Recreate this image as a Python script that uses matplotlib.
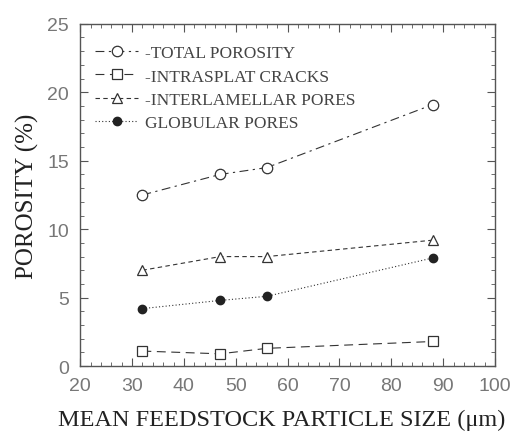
import matplotlib
matplotlib.use("Agg")
import matplotlib.pyplot as plt
from matplotlib.ticker import MultipleLocator

sizes = [32, 47, 56, 88]
total_porosity = [12.5, 14.0, 14.5, 19.1]
intrasplat_cracks = [1.1, 0.9, 1.3, 1.8]
interlamellar_pores = [7.0, 8.0, 8.0, 9.2]
globular_pores = [4.2, 4.8, 5.1, 7.9]
labels = ["-TOTAL POROSITY", "-INTRASPLAT CRACKS", "-INTERLAMELLAR PORES", "GLOBULAR PORES"]
xticks = [20, 30, 40, 50, 60, 70, 80, 90, 100]
yticks = [0, 5, 10, 15, 20, 25]

serif = ["Liberation Serif", "DejaVu Serif"]
fig = plt.figure(figsize=(5.14, 4.35), dpi=100)
ax = fig.add_axes([0.156, 0.156, 0.807, 0.787])

c = "#333333"
ax.plot(sizes, total_porosity, linestyle=(0, (8, 4, 2, 4)), color=c, lw=0.8,
        marker="o", ms=7.5, mfc="white", mec=c, mew=0.9, label=labels[0])
ax.plot(sizes, intrasplat_cracks, linestyle=(0, (8, 5)), color=c, lw=0.8,
        marker="s", ms=7, mfc="white", mec=c, mew=0.9, label=labels[1])
ax.plot(sizes, interlamellar_pores, linestyle=(0, (4, 3)), color=c, lw=0.8,
        marker="^", ms=7, mfc="white", mec=c, mew=0.9, label=labels[2])
ax.plot(sizes, globular_pores, linestyle=(0, (1, 2)), color=c, lw=0.8,
        marker="o", ms=6, mfc="#222222", mec="#222222", label=labels[3])

ax.set_xlim(20, 100)
ax.set_ylim(0, 25)
ax.set_xticks(xticks)
ax.set_yticks(yticks)
ax.xaxis.set_minor_locator(MultipleLocator(2))
ax.yaxis.set_minor_locator(MultipleLocator(1))
ax.tick_params(which="both", direction="in", top=True, right=True, color="#555555")
ax.tick_params(which="major", length=6, labelsize=14, labelcolor="#777777", pad=8)
ax.tick_params(which="minor", length=3)
for lab in ax.get_xticklabels() + ax.get_yticklabels():
    lab.set_family(["Liberation Sans", "DejaVu Sans"])
    lab.set_fontweight("light")
for s in ax.spines.values():
    s.set_color("#555555")
    s.set_linewidth(1.0)

ax.set_xlabel("MEAN FEEDSTOCK PARTICLE SIZE (μm)", fontsize=17.5, family=serif, color="#222222")
ax.xaxis.set_label_coords(0.486, -0.125)
ax.set_ylabel("POROSITY (%)", fontsize=18, family=serif, color="#222222", labelpad=6)

leg = ax.legend(loc="upper left", frameon=False, prop={"family": serif, "size": 12.5},
                handlelength=2.5, handletextpad=0.4, labelspacing=0.41,
                borderaxespad=0.0, bbox_to_anchor=(0.019, 0.958))
for t in leg.get_texts():
    t.set_color("#444444")

fig.savefig("out.png", dpi=100)
